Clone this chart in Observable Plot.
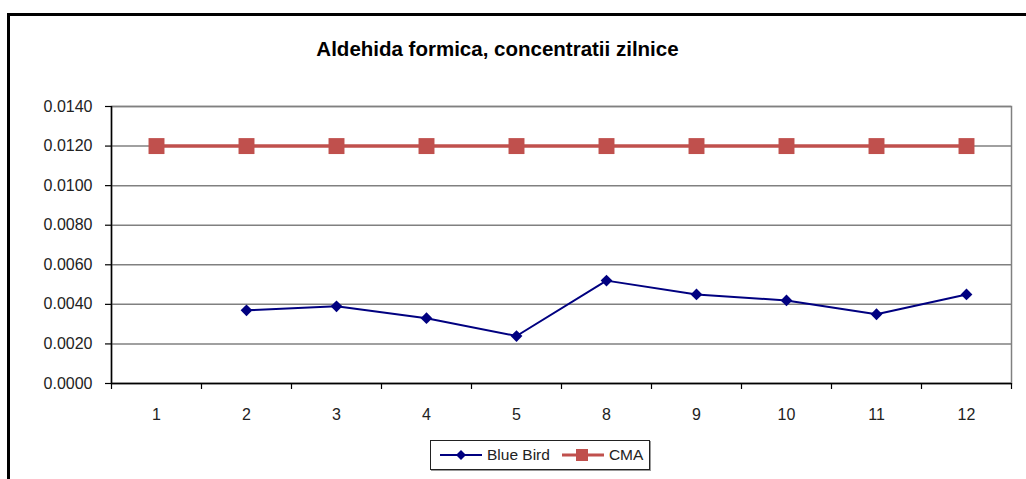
<!DOCTYPE html>
<html><head><meta charset="utf-8">
<script src="https://cdn.jsdelivr.net/npm/d3@7"></script>
<script src="https://cdn.jsdelivr.net/npm/@observablehq/plot@0.6"></script>
<style>
html,body{margin:0;padding:0;background:#fff;}
#wrap{position:relative;width:1026px;height:479px;overflow:hidden;font-family:"Liberation Sans",Arial,sans-serif;}
#frame{position:absolute;left:7px;top:13px;width:1100px;height:600px;border-left:3px solid #000;border-top:3px solid #000;pointer-events:none;box-sizing:border-box;}
#title{height:80px;box-sizing:border-box;padding-top:39px;width:995px;text-align:center;font-weight:bold;font-size:20.5px;line-height:1;color:#000;}
#chart svg{display:block;}
#legend{height:49px;box-sizing:border-box;padding-top:10px;padding-left:430px;}
#legend .box{display:flex;align-items:center;width:220px;height:30px;box-sizing:border-box;border:1px solid #222;box-shadow:1px 1px 0 #999;font-size:15.5px;color:#222;padding-left:9px;white-space:nowrap;}
#legend .item{display:flex;align-items:center;margin-right:12px;white-space:nowrap;flex:none;}
#legend svg{margin-right:5px;flex:none;}
</style>
</head><body>
<div id="wrap">
  <div id="title"></div>
  <div id="chart"></div>
  <div id="legend"></div>
  <div id="frame"></div>
</div>
<script>
const titleText = "Aldehida formica, concentratii zilnice";
const days = ["1","2","3","4","5","8","9","10","11","12"];
const blueBird = [null, 0.0037, 0.0039, 0.0033, 0.0024, 0.0052, 0.0045, 0.0042, 0.0035, 0.0045];
const cma = [0.012, 0.012, 0.012, 0.012, 0.012, 0.012, 0.012, 0.012, 0.012, 0.012];
const yTicks = [0, 0.002, 0.004, 0.006, 0.008, 0.010, 0.012, 0.014];
const seriesNames = ["Blue Bird", "CMA"];
const colors = {"Blue Bird": "#000080", "CMA": "#C0504D"};

document.getElementById("title").textContent = titleText;

const idx = d3.range(days.length);
const boundaries = d3.range(days.length + 1).map(i => i - 0.5);
const bb = idx.map(i => ({i, v: blueBird[i]}));
const cm = idx.map(i => ({i, v: cma[i]}));

const chart = Plot.plot({
  width: 1026, height: 350,
  marginTop: 26, marginBottom: 47, marginLeft: 111, marginRight: 15,
  style: {fontFamily: "Liberation Sans, Arial, sans-serif", fontSize: "16px", color: "#222", background: "transparent"},
  x: {type: "linear", domain: [-0.5, days.length - 0.5]},
  y: {domain: [0, 0.014]},
  marks: [
    Plot.gridY(yTicks, {stroke: "#808080", strokeOpacity: 1, strokeWidth: 1.5}),
    Plot.frame({stroke: "#808080", strokeWidth: 1.5}),
    Plot.axisY(yTicks, {tickFormat: d3.format(".4f"), tickSize: 6, tickPadding: 13, stroke: "#000", strokeWidth: 1.2, label: null}),
    Plot.ruleX([-0.5], {stroke: "#000", strokeWidth: 1.5}),
    Plot.ruleY([0], {stroke: "#000", strokeWidth: 1.5}),
    Plot.axisX(boundaries, {tickSize: 6, tickFormat: () => "", stroke: "#000", strokeWidth: 1.2, label: null}),
    Plot.axisX(idx, {tickSize: 0, tickPadding: 25, tickFormat: i => days[i], label: null}),
    Plot.line(cm, {x: "i", y: "v", stroke: colors["CMA"], strokeWidth: 3.5}),
    Plot.dot(cm, {x: "i", y: "v", symbol: "square", r: 9, fill: colors["CMA"], stroke: "none"}),
    Plot.line(bb, {x: "i", y: "v", stroke: colors["Blue Bird"], strokeWidth: 2}),
    Plot.dot(bb, {x: "i", y: "v", symbol: "diamond2", r: 5.3, fill: colors["Blue Bird"], stroke: "none"})
  ]
});
document.getElementById("chart").appendChild(chart);

// legend
const box = document.createElement("div");
box.className = "box";
seriesNames.forEach(name => {
  const item = document.createElement("div");
  item.className = "item";
  const c = colors[name];
  const sym = name === "CMA"
    ? `<rect x="14" y="4" width="12" height="12" fill="${c}"/>`
    : `<path d="M21 5 L26 10 L21 15 L16 10 Z" fill="${c}"/>`;
  const sw = name === "CMA" ? 3 : 2;
  item.innerHTML = `<svg width="42" height="20"><line x1="0" y1="10" x2="42" y2="10" stroke="${c}" stroke-width="${sw}"/>${sym}</svg><span>${name}</span>`;
  box.appendChild(item);
});
document.getElementById("legend").appendChild(box);
</script>
</body></html>
